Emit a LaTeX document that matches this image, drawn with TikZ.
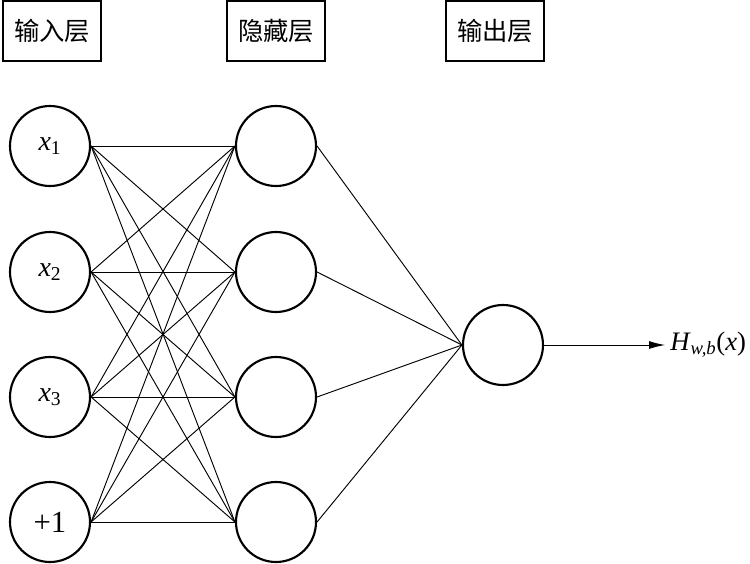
\documentclass[tikz,border=0pt]{standalone}
\usepackage{fontspec}
\setmainfont{Liberation Serif}
\newfontfamily\cjk{Noto Sans CJK SC}
\usetikzlibrary{arrows.meta}
\begin{document}
\begin{tikzpicture}[x=0.75pt,y=-0.75pt,
  neuron/.style={circle,draw,line width=1.6pt,minimum size=60pt,inner sep=0pt,font=\fontsize{21}{23}\selectfont},
  layerbox/.style={draw,line width=1.5pt,minimum width=73.5pt,minimum height=44.5pt,inner sep=0pt,font=\cjk\fontsize{19}{21}\selectfont},
  conn/.style={line width=0.7pt},
  outlabel/.style={anchor=west,inner sep=0pt,font=\fontsize{20}{22}\selectfont}]
\useasboundingbox (0,0) rectangle (750,564);
\node[layerbox] (Lin) at (52,31) {输入层};
\node[layerbox] (Lhid) at (276,31) {隐藏层};
\node[layerbox] (Lout) at (495,31) {输出层};
\node[neuron] (i1) at (50,146) {\textit{x}\textsubscript{1}};
\node[neuron] (i2) at (50,272) {\textit{x}\textsubscript{2}};
\node[neuron] (i3) at (50,397) {\textit{x}\textsubscript{3}};
\node[neuron,font=\fontsize{23}{25}\selectfont] (i4) at (50,522) {+1};
\node[neuron] (h1) at (276,146) {};
\node[neuron] (h2) at (276,272) {};
\node[neuron] (h3) at (276,397) {};
\node[neuron] (h4) at (276,522) {};
\node[neuron] (o) at (503,345) {};
\foreach \i in {1,...,4}{
  \foreach \j in {1,...,4}{
    \draw[conn] (i\i.east) -- (h\j.west);
  }
  \draw[conn] (h\i.east) -- (o.west);
}
\coordinate (tip) at (665,345);
\draw[conn,-{Latex[length=12pt,width=6pt]}] (o.east) -- (tip);
\node[outlabel] (H) at (670,345) {\textit{H}\textsubscript{\textit{w,b}}(\textit{x})};
\end{tikzpicture}
\end{document}
